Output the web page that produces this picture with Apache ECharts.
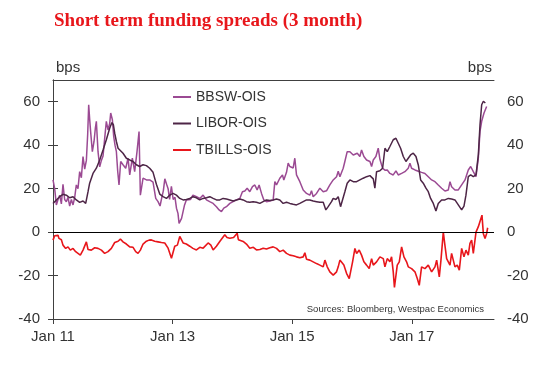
<!DOCTYPE html>
<html>
<head>
<meta charset="utf-8">
<script src="https://cdn.jsdelivr.net/npm/echarts@6/dist/echarts.min.js"></script>
<style>html,body{margin:0;padding:0;background:#fff;}#c{width:559px;height:373px;}</style>
</head>
<body>
<div id="c"></div>
<script>
// x values: years since Jan 2011
const xTickValues = [0, 2, 4, 6];
const xTickLabels = ['Jan 11', 'Jan 13', 'Jan 15', 'Jan 17'];
const yTickValues = [-40, -20, 0, 20, 40, 60];

const bbswT = [0.000,0.028,0.056,0.084,0.112,0.140,0.167,0.195,0.223,0.251,0.279,0.307,0.335,0.363,0.390,0.418,0.446,0.474,0.502,0.530,0.558,0.580,0.597,0.613,0.630,0.658,0.686,0.709,0.725,0.753,0.781,0.809,0.837,0.864,0.892,0.920,0.948,0.965,0.993,1.015,1.037,1.060,1.082,1.104,1.132,1.171,1.216,1.255,1.283,1.327,1.366,1.405,1.439,1.461,1.506,1.562,1.617,1.673,1.718,1.757,1.790,1.820,1.845,1.870,1.900,1.925,1.950,1.980,2.010,2.040,2.065,2.090,2.108,2.130,2.150,2.175,2.200,2.230,2.260,2.300,2.340,2.400,2.455,2.510,2.566,2.620,2.678,2.733,2.778,2.817,2.856,2.900,2.957,3.012,3.068,3.124,3.168,3.208,3.247,3.291,3.336,3.375,3.414,3.447,3.487,3.526,3.570,3.626,3.682,3.710,3.738,3.793,3.838,3.860,3.905,3.933,3.961,3.989,4.017,4.044,4.072,4.100,4.128,4.156,4.184,4.240,4.295,4.323,4.351,4.407,4.463,4.519,4.574,4.630,4.686,4.742,4.770,4.798,4.825,4.853,4.881,4.920,4.965,5.021,5.049,5.088,5.132,5.160,5.199,5.244,5.300,5.328,5.356,5.400,5.439,5.467,5.512,5.551,5.590,5.634,5.690,5.735,5.774,5.830,5.885,5.941,5.969,5.997,6.053,6.109,6.164,6.220,6.276,6.332,6.388,6.443,6.499,6.555,6.611,6.639,6.666,6.722,6.778,6.834,6.890,6.945,6.985,7.029,7.074,7.113,7.141,7.169,7.208,7.252];
const bbswV = [24,20,12.5,15,17,13,22,15,14,16,12,15,12.5,16,21.7,20,27.8,25,34.8,29,33,45,58.6,52,46,37,41.7,48,51,37,30,33,35,43,51,47,50,54.8,51.7,44,40,37,28,21.7,32.5,31,29.4,34,26.3,34,27.8,37,46.3,17,24.8,24,24,23,15.5,14,12,16,19,24.5,22,20,15,21,15,16,11,8.6,4,3.2,6.3,9.4,12.5,14.8,15.5,15,17,16.3,15.5,17,14.8,14,13.2,11.7,10.2,9.4,11,11.7,13.2,14,14.8,15.5,18.6,18.9,20.2,18.6,20.9,21.7,19.4,21.7,17.8,14.8,14,14.3,14.8,23.2,21.7,24.8,26.3,24,27.5,31.7,30.2,31,29.5,34,26.3,26,23.2,22.5,19.4,17.8,17,19,16.3,17.8,20.2,18.6,19,21.7,24,25.5,28,25.5,26,29.4,32.5,37,37,35.5,34.8,36.3,34.8,37.8,34.8,33.2,32.5,30.2,33.2,34.8,38.6,33.5,29.4,28.5,28.6,27,26.3,28.2,26.3,27,27.8,29.4,31.7,29.4,28.6,28,27.5,27,25.5,24,23.2,21.7,20.2,18.9,19.4,23.2,20.9,19.4,19.4,21.7,24,28.6,30.2,27.8,25.5,34,46.3,51,54.8,57.8];

const liborT = [0.000,0.056,0.112,0.167,0.223,0.279,0.335,0.390,0.446,0.502,0.547,0.586,0.613,0.669,0.725,0.781,0.837,0.892,0.948,0.985,1.010,1.032,1.060,1.088,1.115,1.171,1.227,1.283,1.339,1.394,1.450,1.506,1.562,1.617,1.673,1.729,1.785,1.841,1.897,1.952,2.008,2.064,2.120,2.176,2.231,2.287,2.343,2.399,2.454,2.510,2.566,2.622,2.678,2.733,2.789,2.845,2.901,2.957,3.012,3.068,3.124,3.180,3.236,3.291,3.347,3.403,3.459,3.514,3.570,3.626,3.682,3.738,3.793,3.849,3.905,3.961,4.017,4.072,4.128,4.184,4.240,4.295,4.351,4.407,4.463,4.519,4.563,4.602,4.630,4.658,4.686,4.731,4.770,4.809,4.842,4.881,4.920,4.965,5.021,5.077,5.132,5.188,5.244,5.300,5.356,5.383,5.411,5.467,5.512,5.551,5.590,5.634,5.690,5.735,5.774,5.813,5.858,5.902,5.941,5.980,6.025,6.070,6.109,6.148,6.192,6.237,6.276,6.315,6.360,6.404,6.443,6.499,6.555,6.611,6.666,6.722,6.778,6.834,6.873,6.906,6.945,6.985,7.029,7.074,7.113,7.141,7.169,7.197,7.230];
const liborV = [13.2,14.8,16.3,17.4,17,15.8,16.3,14.8,13.7,14.3,13.2,18.6,22.5,27,29.4,33.2,37.8,42.5,47.8,50.4,49.4,45.5,41.7,38.6,37.8,36.3,34,33.2,32.5,31,30.2,31,30.6,29.4,27.5,22,17.5,16.3,15.5,17,17.8,17,15.5,14.8,15,15.5,16.3,15.8,14.8,15.5,15.8,16.3,15.5,14.8,14.8,15.5,15.2,14.8,14.3,14.8,15.2,14.8,14,13.7,14,13.7,13.2,14,14.8,14.5,14.8,15.2,14.8,13.2,13.7,13.2,12.8,12.5,13.2,14,14.8,14.8,14.3,14,13.7,13.7,10.2,11.7,11,14,15.5,15,16.3,11.7,12.5,18.6,22.5,24,23.2,23.2,24,24.8,25.5,26,24.5,20.2,27.8,28.2,29.4,38.6,37,39.4,42.5,43.2,40.9,38.6,34.8,32.5,34,35.5,36.3,34.8,30.9,24,22.5,20.2,18.6,15.5,13.2,9.7,13.2,14.8,14.8,15.5,15.2,14.8,12.5,10.2,12,17,25.5,26.3,25.5,26.3,35.5,49.4,58.6,60.2,59.4];

const tbillsT = [0.000,0.028,0.056,0.084,0.100,0.140,0.167,0.212,0.251,0.290,0.335,0.379,0.418,0.457,0.502,0.530,0.558,0.586,0.641,0.697,0.753,0.809,0.864,0.920,0.976,1.032,1.088,1.127,1.171,1.227,1.283,1.339,1.383,1.422,1.461,1.506,1.562,1.606,1.645,1.701,1.757,1.813,1.869,1.925,1.955,1.981,2.036,2.080,2.120,2.176,2.230,2.287,2.340,2.399,2.455,2.511,2.594,2.640,2.678,2.733,2.789,2.873,2.910,2.957,3.020,3.080,3.100,3.130,3.180,3.235,3.291,3.350,3.403,3.460,3.515,3.570,3.626,3.682,3.738,3.793,3.849,3.905,3.961,4.017,4.072,4.128,4.184,4.212,4.240,4.295,4.351,4.407,4.463,4.519,4.547,4.586,4.630,4.686,4.742,4.770,4.798,4.825,4.864,4.909,4.954,4.976,5.010,5.049,5.077,5.121,5.160,5.199,5.244,5.288,5.328,5.356,5.411,5.467,5.523,5.551,5.590,5.634,5.662,5.690,5.710,5.757,5.791,5.830,5.869,5.913,5.941,5.997,6.053,6.092,6.125,6.164,6.220,6.276,6.332,6.388,6.416,6.460,6.488,6.527,6.555,6.583,6.639,6.666,6.722,6.761,6.795,6.834,6.873,6.906,6.945,6.973,7.001,7.029,7.074,7.113,7.141,7.174,7.197,7.225,7.252,7.269];
const tbillsV = [-3.7,-1.7,-1.5,-1.5,-2.9,-3.5,-6,-7.5,-6.8,-8.3,-7.5,-9,-9.8,-10.6,-8.3,-7.5,-4.5,-8,-8.3,-7.2,-7.5,-8.3,-9.8,-9,-7.5,-4.8,-4.2,-3.2,-4.5,-5.5,-6.8,-7,-9,-9.8,-8.3,-5.5,-4.2,-3.7,-3.6,-4.2,-4.5,-4.8,-5,-7.4,-8,-12,-6.5,-6,-2,-5,-5.5,-6.5,-7.5,-8.2,-7,-7.4,-5,-6,-8.2,-6.5,-4.3,-1.2,-2.5,-2.8,-2.5,-0.5,-3.5,-3,-4.3,-5.5,-7.4,-7,-8.2,-8,-7.4,-7.8,-7.2,-6.8,-7.5,-9,-8.3,-9.8,-10.6,-10.9,-11.4,-11.8,-11.4,-9.5,-12.5,-12.9,-13.7,-14.5,-15.2,-16,-12.9,-16,-18.3,-19.8,-18.3,-16,-12.9,-12.2,-15.2,-19,-21.4,-20.6,-13.7,-7.5,-9.8,-8.3,-10.6,-13.7,-15.2,-16.8,-12.2,-15.2,-13.7,-11.4,-12.2,-16,-12.2,-13.7,-11.4,-18.3,-25.5,-15.2,-13.7,-6.8,-11.4,-13.7,-16,-16.8,-18.3,-21.4,-24.5,-16,-16.8,-15.2,-18.3,-16,-12.9,-20.6,-12.9,0,-6.2,-12.2,-15.2,-9.8,-16,-15.2,-17.5,-7.5,-11.4,-8.3,-10.6,-5.2,-3.7,-9.8,0,2.5,1.7,7.8,-0.8,-2.9,-0.6,2];

const pairs = (t, v) => t.map((x, i) => [x, v[i]]);
const FONT = "'Liberation Sans', Arial, sans-serif";
const axisColor = '#404040';
const labelColor = '#333';

const chart = echarts.init(document.getElementById('c'), null, {renderer: 'canvas'});

function yAxisDef(pos) {
  return {
    type: 'value', position: pos, min: -40, max: 70, interval: 20,
    axisLine: {show: true, lineStyle: {color: axisColor, width: 1}},
    axisTick: {show: true, inside: false, length: 5, lineStyle: {color: axisColor}, customValues: yTickValues},
    axisLabel: {show: true, margin: 13, fontSize: 15, fontFamily: FONT, color: labelColor, customValues: yTickValues},
    splitLine: {show: false}
  };
}

chart.setOption({
  animation: false,
  backgroundColor: '#fff',
  title: {
    text: 'Short term funding spreads (3 month)',
    left: 54, top: 12, padding: 0,
    textStyle: {fontFamily: "'Liberation Serif', 'Times New Roman', serif", fontWeight: 'bold', fontSize: 19, color: '#E8161B'}
  },
  grid: {left: 53, right: 65, top: 80, bottom: 54, containLabel: false},
  legend: {
    orient: 'vertical', left: 168, top: 85, itemWidth: 18, itemHeight: 2, itemGap: 12.5,
    icon: 'rect',
    textStyle: {fontFamily: FONT, fontSize: 14, color: labelColor, lineHeight: 14},
    data: ['BBSW-OIS', 'LIBOR-OIS', 'TBILLS-OIS']
  },
  xAxis: [{
    type: 'value', position: 'bottom', min: 0, max: 7.375, interval: 2,
    axisLine: {show: true, onZero: false, lineStyle: {color: axisColor, width: 1}},
    axisTick: {show: true, length: 5, lineStyle: {color: axisColor}, customValues: xTickValues},
    axisLabel: {show: true, margin: 10, fontSize: 15, fontFamily: FONT, color: labelColor, customValues: xTickValues,
      formatter: v => { const i = xTickValues.indexOf(Math.round(v * 1000) / 1000); return i >= 0 ? xTickLabels[i] : ''; }},
    splitLine: {show: false}
  }, {
    type: 'value', position: 'top', min: 0, max: 7.375,
    axisLine: {show: true, onZero: false, lineStyle: {color: axisColor, width: 1}},
    axisTick: {show: false}, axisLabel: {show: false}, splitLine: {show: false}
  }],
  yAxis: [yAxisDef('left'), yAxisDef('right')],
  graphic: [
    {type: 'text', left: 56, top: 60, style: {text: 'bps', fontSize: 15, fontFamily: FONT, fill: labelColor}},
    {type: 'text', right: 67, top: 60, style: {text: 'bps', fontSize: 15, fontFamily: FONT, fill: labelColor}},
    {type: 'text', right: 75, top: 304, style: {text: 'Sources: Bloomberg, Westpac Economics', fontSize: 9.5, fontFamily: FONT, fill: '#333'}}
  ],
  series: [
    {name: 'BBSW-OIS', type: 'line', data: pairs(bbswT, bbswV), showSymbol: false, symbol: 'none',
      lineStyle: {color: '#9B4A93', width: 1.5}, itemStyle: {color: '#9B4A93'},
      markLine: {silent: true, symbol: 'none', label: {show: false}, lineStyle: {color: '#000', width: 1, type: 'solid'}, data: [{yAxis: 0}]}},
    {name: 'LIBOR-OIS', type: 'line', data: pairs(liborT, liborV), showSymbol: false, symbol: 'none',
      lineStyle: {color: '#4D2546', width: 1.5}, itemStyle: {color: '#4D2546'}},
    {name: 'TBILLS-OIS', type: 'line', data: pairs(tbillsT, tbillsV), showSymbol: false, symbol: 'none',
      lineStyle: {color: '#E8161B', width: 1.6}, itemStyle: {color: '#E8161B'}}
  ]
});
</script>
</body>
</html>
